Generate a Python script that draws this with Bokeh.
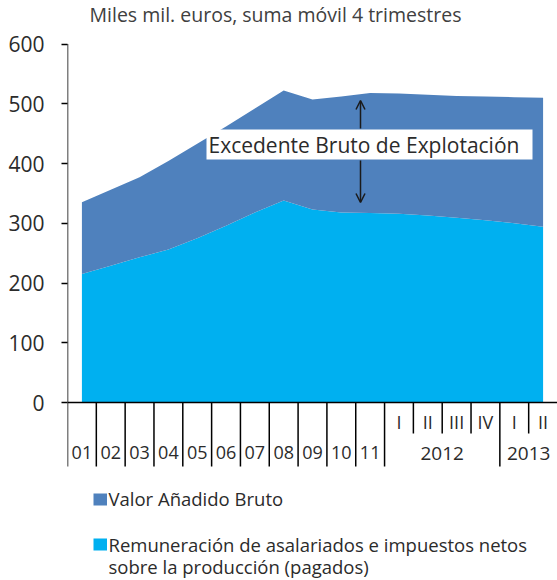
from bokeh.plotting import figure
from bokeh.models import Range1d, FixedTicker, Span, Arrow, OpenHead
from bokeh.embed import file_html
from bokeh.resources import INLINE
from bokeh.core.properties import value

# ---------------- data ----------------
years = ["01", "02", "03", "04", "05", "06", "07", "08", "09", "10", "11"]
quarters = ["I", "II", "III", "IV", "I", "II"]
quarter_years = ["2012", "2013"]
quarters_per_year = [4, 2]
vab = [335, 356, 377, 404, 433, 462, 492, 522, 507, 512, 518, 517, 515, 513, 512, 511, 510]
remun = [215, 229, 243, 256, 275, 296, 318, 338, 323, 318, 317, 316, 313, 309, 305, 300, 294]
y_ticks = [0, 100, 200, 300, 400, 500, 600]

subtitle = "Miles mil. euros, suma móvil 4 trimestres"
annotation = "Excedente Bruto de Explotación"
legend_vab = "Valor Añadido Bruto"
legend_rem_1 = "Remuneración de asalariados e impuestos netos"
legend_rem_2 = "sobre la producción (pagados)"

# ---------------- layout helpers ----------------
W, H = 557, 580
LEFT = 67                     # frame left (canvas px)
FR_L, FR_R = LEFT, W          # frame edges in page px
FR_T, FR_B = 0, H
Y0_PX, Y600_PX = 402.0, 43.5
K = (Y0_PX - Y600_PX) / 600.0
n = len(years) + len(quarters)
CAT = (FR_R - FR_L) / n


def X(px):
    return -0.5 + (px - FR_L) / CAT


def Y(py):
    return (Y0_PX - py) / K


FONT = value("Open Sans")
TXT = "#2b2b2b"

p = figure(width=W, height=H, output_backend="svg", toolbar_location=None,
           x_range=Range1d(-0.5, n - 0.5),
           y_range=Range1d(Y(FR_B), Y(FR_T)),
           x_axis_location=None,
           min_border_left=LEFT, min_border_right=0,
           min_border_top=0, min_border_bottom=0)
p.outline_line_color = None
p.grid.visible = False
p.background_fill_color = "white"
p.border_fill_color = "white"

ax = p.yaxis[0]
ax.ticker = FixedTicker(ticks=y_ticks)
ax.axis_line_color = None
ax.major_tick_out = 6
ax.major_tick_in = 0
ax.major_tick_line_color = "black"
ax.major_tick_line_width = 1.5
ax.minor_tick_line_color = None
ax.major_label_standoff = 17
ax.major_label_text_font = "Open Sans"
ax.major_label_text_font_size = "21px"
ax.major_label_text_color = TXT

# ---------------- areas ----------------
xs = list(range(n))
p.varea(x=xs, y1=[0] * n, y2=remun, fill_color="#00B0F0")
p.varea(x=xs, y1=remun, y2=vab, fill_color="#4F81BD")

# ---------------- custom category axis ----------------
p.add_layout(Span(location=0, dimension="width", line_color="black", line_width=1.5))
# y axis line
p.segment(x0=[-0.5], y0=[600], x1=[-0.5], y1=[0], line_color="black", line_width=1.5)

full_edges = [i - 0.5 for i in range(len(years) + 1)]
short_edges = []
start = len(years)
for cnt in quarters_per_year:
    for j in range(1, cnt):
        short_edges.append(start + j - 0.5)
    start += cnt
    full_edges.append(start - 0.5)
full_edges = [e for e in full_edges if e < n - 0.5]

p.segment(x0=full_edges, y0=[0] * len(full_edges), x1=full_edges,
          y1=[Y(466)] * len(full_edges), line_color="black", line_width=1.5)
p.segment(x0=short_edges, y0=[0] * len(short_edges), x1=short_edges,
          y1=[Y(433)] * len(short_edges), line_color="black", line_width=1.5)

p.text(x=list(range(len(years))), y=[Y(452)] * len(years), text=years,
       text_align="center", text_baseline="middle", text_font=FONT,
       text_font_size="18px", text_color=TXT)
qx = list(range(len(years), n))
p.text(x=qx, y=[Y(421)] * len(qx), text=quarters,
       text_align="center", text_baseline="middle", text_font=FONT,
       text_font_size="18px", text_color=TXT)
gx = []
start = len(years)
for cnt in quarters_per_year:
    gx.append(start + (cnt - 1) / 2)
    start += cnt
p.text(x=gx, y=[Y(453)] * len(gx), text=quarter_years,
       text_align="center", text_baseline="middle", text_font=FONT,
       text_font_size="19px", text_color=TXT)

# ---------------- subtitle ----------------
p.text(x=[X(275)], y=[Y(14)], text=[subtitle], text_align="center",
       text_baseline="middle", text_font=FONT, text_font_size="19.5px",
       text_color="#404040")

# ---------------- annotation ----------------
p.quad(left=[X(206)], right=[X(532)], top=[Y(129)], bottom=[Y(159)],
       fill_color="white", line_color=None)
p.text(x=[X(208)], y=[Y(144)], text=[annotation], text_align="left",
       text_baseline="middle", text_font=FONT, text_font_size="21px",
       text_color=TXT)
xa = X(360)
p.add_layout(Arrow(end=OpenHead(size=9, line_width=1.5, line_color="#1a1a1a"),
                   x_start=xa, y_start=Y(128), x_end=xa, y_end=Y(100),
                   line_width=1.5, line_color="#1a1a1a"))
p.add_layout(Arrow(end=OpenHead(size=9, line_width=1.5, line_color="#1a1a1a"),
                   x_start=xa, y_start=Y(160), x_end=xa, y_end=Y(202),
                   line_width=1.5, line_color="#1a1a1a"))

# ---------------- legend ----------------
p.quad(left=[X(93), X(93)], right=[X(106.5), X(106.5)],
       top=[Y(493), Y(538)], bottom=[Y(505), Y(550)],
       fill_color=["#4F81BD", "#00B0F0"], line_color=None)
p.text(x=[X(108)] * 3, y=[Y(498), Y(544), Y(566)],
       text=[legend_vab, legend_rem_1, legend_rem_2], text_align="left",
       text_baseline="middle", text_font=FONT, text_font_size="18.5px",
       text_color=TXT)

open("out.html", "w").write(file_html(p, INLINE))
